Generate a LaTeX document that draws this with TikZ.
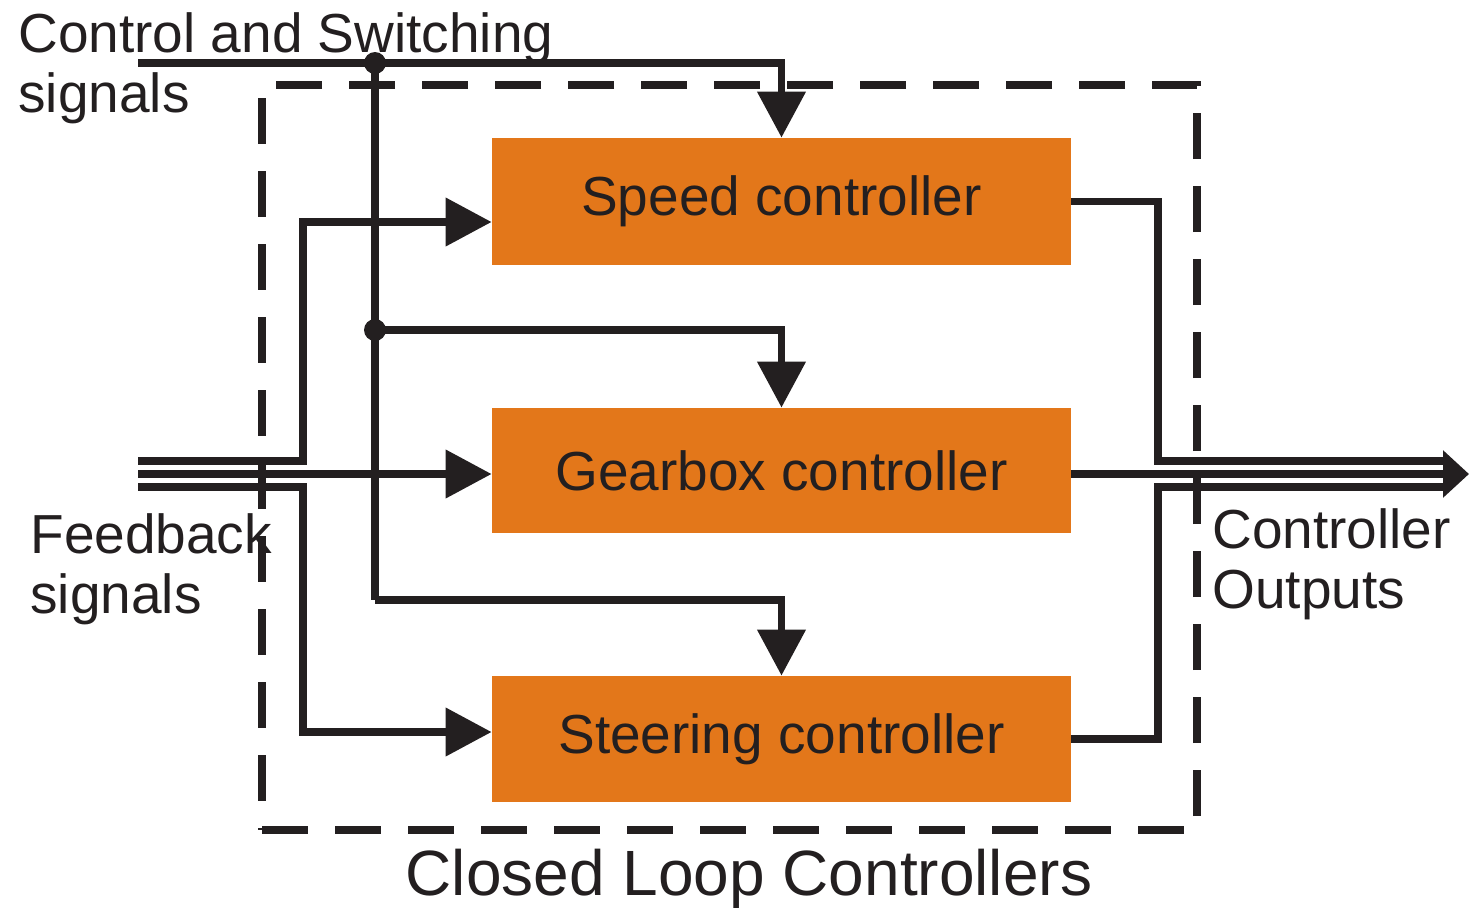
\documentclass[tikz,border=0pt]{standalone}
\usepackage{fontspec}
\setmainfont{Liberation Sans}
\usetikzlibrary{arrows.meta,calc}
\definecolor{ink}{HTML}{231F20}
\definecolor{boxor}{HTML}{E3771A}
\begin{document}
\begin{tikzpicture}[x=0.5pt,y=-0.5pt,
  wire/.style={draw=ink,line width=3.8pt},
  arr/.style={wire,-{Triangle[length=23pt,width=23.5pt]}},
  ctrl/.style={fill=boxor,draw=none,minimum width=289.5pt,minimum height=63pt,font=\fontsize{27.5}{30}\selectfont,text=ink,inner sep=0},
  lbl/.style={font=\fontsize{27.5}{30}\selectfont,text=ink,align=left,inner sep=0},
  dashbox/.style={draw=ink,line width=4pt,dash pattern=on 23pt off 13.5pt},
  dot/.style={circle,fill=ink,inner sep=0,minimum size=11pt}]
\useasboundingbox (0,0) rectangle (1469,907);

% dashed enclosure
\node[dashbox,minimum width=467.5pt,minimum height=372.5pt,inner sep=0] (clc) at (729.5,457.5) {};

% controllers
\node[ctrl,minimum height=63.5pt] (speed) at (781.5,201.5) {Speed controller};
\node[ctrl,minimum height=62.5pt] (gear) at (781.5,470.5) {Gearbox controller};
\node[ctrl,minimum height=63pt] (steer) at (781.5,739) {Steering controller};

% coordinates
\coordinate (cin) at (138,63);
\coordinate (j3) at (375,600);
\coordinate (fb1) at (138,461);
\coordinate (fb2) at (138,474);
\coordinate (fb3) at (138,487);
\coordinate (o1) at (1445,461);
\coordinate (o2) at (1469,474);
\coordinate (o3) at (1445,487);
\coordinate (sIn) at ($(speed.west)+(0,20.5)$);
\coordinate (tIn) at ($(steer.west)+(0,-7)$);

% junction dots
\node[dot] (j1) at (375,63) {};
\node[dot] (j2) at (375,330) {};

% control and switching signals
\draw[arr] (cin) -| (speed.north);
\draw[wire] (j1.center) -- (j3);
\draw[arr] (j2.center) -| (gear.north);
\draw[arr] (j3) -| (steer.north);

% feedback signals
\draw[arr] (fb1) -- (303,461) |- (sIn);
\draw[arr] (fb2) -- (fb2 -| gear.west);
\draw[arr] (fb3) -- (303,487) |- (tIn);

% controller outputs
\draw[wire] (speed.east) -| (1158,461) -- (o1);
\draw[wire] (steer.east) -| (1158,487) -- (o3);
\draw[wire,-{Triangle[length=13pt,width=23pt]}] (o2 -| gear.east) -- (o2);

% labels
\node[lbl,anchor=north west] (csl) at (18,12) {Control and Switching\\signals};
\node[lbl,anchor=north west] (fbl) at (30,513) {Feedback\\signals};
\node[lbl,anchor=north west] (col) at (1212,508) {Controller\\Outputs};
\node[lbl,anchor=base,font=\fontsize{32}{34}\selectfont] (cll) at (749,895) {Closed Loop Controllers};
\end{tikzpicture}
\end{document}
